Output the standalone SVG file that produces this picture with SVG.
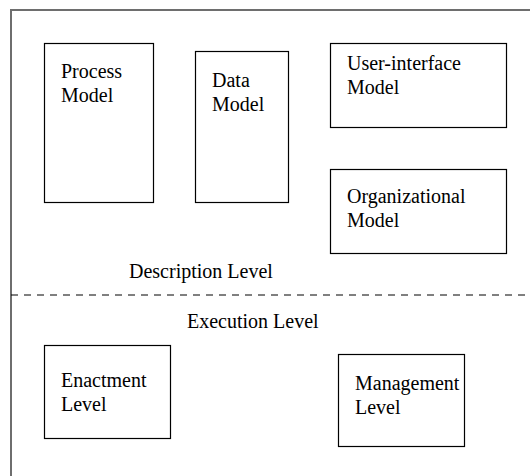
<svg xmlns="http://www.w3.org/2000/svg" width="530" height="476" viewBox="0 0 530 476">
<style>
.box{fill:#fff;stroke:#000;stroke-width:1.2}
.t{font-size:20px;fill:#000}
</style>
<rect width="530" height="476" fill="#fff"/>
<g id="frame">
<path d="M11,476 V10 H530" fill="none" stroke="#6e6e6e" stroke-width="2"/>
</g>
<g id="connectors">
<line x1="11" y1="295" x2="530" y2="295" stroke="#000" stroke-width="1" stroke-dasharray="7,6"/>
</g>
<g font-family="'Liberation Serif', serif">
<g id="process-model">
<rect class="box" x="44.5" y="43.5" width="109" height="159"/>
<text class="t" x="61" y="78">Process</text>
<text class="t" x="61" y="102">Model</text>
</g>
<g id="data-model">
<rect class="box" x="195.5" y="51.5" width="93" height="151"/>
<text class="t" x="212" y="87">Data</text>
<text class="t" x="212" y="111">Model</text>
</g>
<g id="ui-model">
<rect class="box" x="330.5" y="43.5" width="176" height="84"/>
<text class="t" x="347" y="70">User-interface</text>
<text class="t" x="347" y="94">Model</text>
</g>
<g id="org-model">
<rect class="box" x="330.5" y="169.5" width="176" height="84"/>
<text class="t" x="347" y="203">Organizational</text>
<text class="t" x="347" y="227">Model</text>
</g>
<g id="description-level">
<text class="t" x="129" y="278">Description Level</text>
</g>
<g id="execution-level">
<text class="t" x="187" y="328">Execution Level</text>
</g>
<g id="enactment-level">
<rect class="box" x="44.5" y="345.5" width="126" height="93"/>
<text class="t" x="61" y="387">Enactment</text>
<text class="t" x="61" y="411">Level</text>
</g>
<g id="management-level">
<rect class="box" x="338.5" y="354.5" width="126" height="92"/>
<text class="t" x="355" y="390">Management</text>
<text class="t" x="355" y="414">Level</text>
</g>
</g>
</svg>
